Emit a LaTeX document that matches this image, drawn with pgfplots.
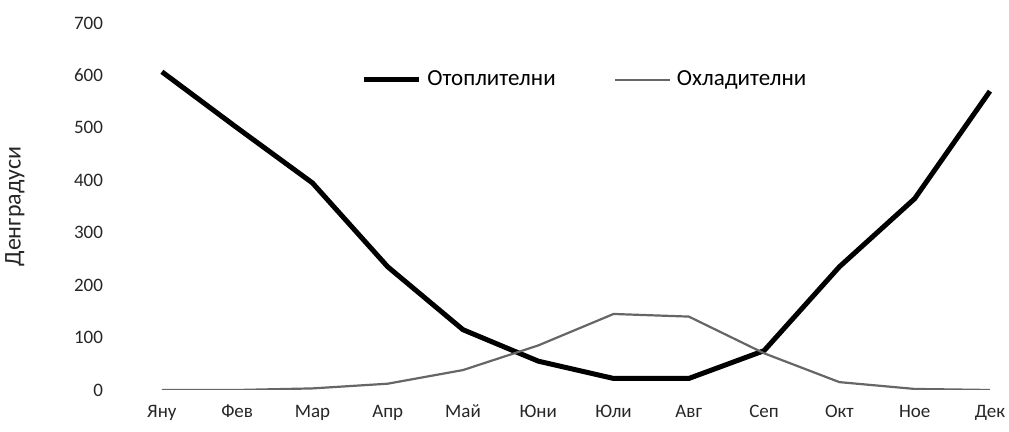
\documentclass[border=0pt]{standalone}
\usepackage{fontspec}
\setmainfont{Carlito}
\usepackage{pgfplots}
\pgfplotsset{compat=1.18}
\begin{document}
\begin{tikzpicture}
\begin{axis}[
  at={(0,0)}, anchor=south west,
  scale only axis,
  width=438.5pt, height=183.5pt,
  xmin=-0.45, xmax=11.2,
  ymin=0, ymax=700,
  axis line style={draw=none},
  major tick length=0pt,
  xtick={0,...,11},
  xticklabels={Яну,Фев,Мар,Апр,Май,Юни,Юли,Авг,Сеп,Окт,Ное,Дек},
  ytick={0,100,...,700},
  /pgf/number format/assume math mode=true,
  tick label style={font=\fontsize{9.5}{10}\selectfont, text=black!85},
  xticklabel style={anchor=base, yshift=-14pt},
  yticklabel style={xshift=-9pt},
  ylabel={Денградуси},
  ylabel style={at={(axis description cs:-0.129,0.5)}, anchor=center, rotate=0,
    font=\fontsize{12}{13}\selectfont, text=black!85},
  legend style={at={(0.522,0.845)}, anchor=center, draw=none, fill=none,
    font=\fontsize{11.5}{12}\selectfont, legend columns=2,
    /tikz/every odd column/.append style={column sep=1pt},
    /tikz/every even column/.append style={column sep=27pt}},
  legend image code/.code={\draw[#1] (0pt,0pt) -- (27.5pt,0pt);},
]
\addplot[black, line width=2.5pt, line join=round] coordinates {
(0,607) (1,500) (2,395) (3,235) (4,115) (5,55) (6,22) (7,22) (8,75) (9,235) (10,365) (11,570)};
\addlegendentry{Отоплителни}
\addplot[black!60, line width=1.1pt, line join=round] coordinates {
(0,0) (1,0) (2,3) (3,12) (4,38) (5,85) (6,145) (7,140) (8,70) (9,15) (10,2) (11,0)};
\addlegendentry{Охладителни}
\end{axis}
\pgfresetboundingbox
\path (-64pt,-21pt) rectangle (440.5pt,195pt);
\end{tikzpicture}
\end{document}
